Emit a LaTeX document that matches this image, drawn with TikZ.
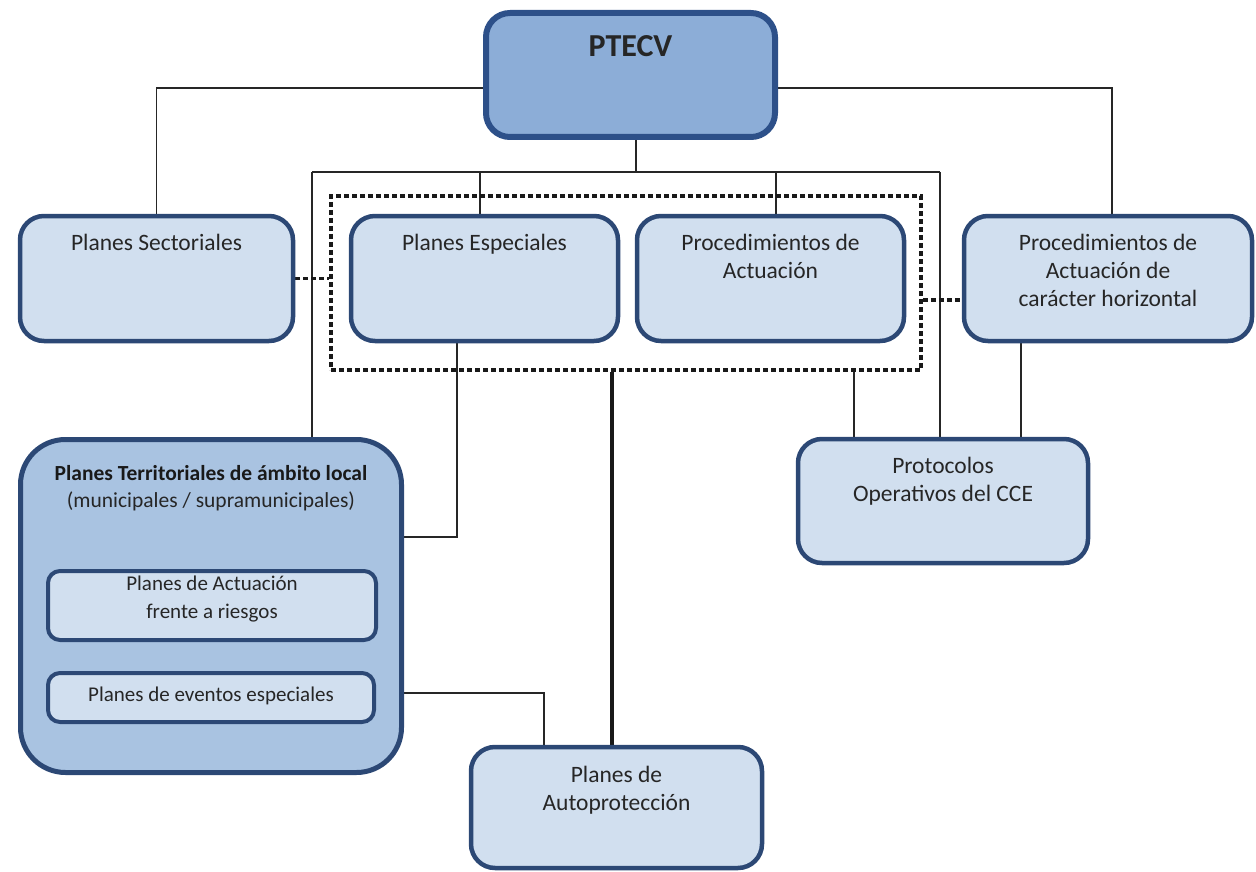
\documentclass[tikz,border=0pt]{standalone}
\usepackage{fontspec}
\setmainfont{Carlito}
\usetikzlibrary{backgrounds}
\definecolor{bdr}{RGB}{44,72,117}
\definecolor{bdrtop}{RGB}{45,80,137}
\definecolor{lightfill}{RGB}{209,223,239}
\definecolor{darkfill}{RGB}{140,173,215}
\definecolor{midfill}{RGB}{169,195,225}
\definecolor{txtc}{RGB}{38,38,38}
\begin{document}
\begin{tikzpicture}[x=1pt,y=-1pt,
  box/.style={rectangle, draw=bdr, line width=4.5pt, rounded corners=24pt, fill=lightfill, inner sep=0pt},
  smallbox/.style={box, line width=4pt, rounded corners=12pt},
  dotbox/.style={rectangle, draw=black!90, line width=3.6pt, dash pattern=on 5pt off 3pt, inner sep=0pt},
  txt/.style={text=txtc, font=\fontsize{23.5}{28}\selectfont, align=center, inner sep=0pt, anchor=north},
  smalltxt/.style={txt, font=\fontsize{21}{28}\selectfont},
  conn/.style={line width=1.4pt, draw=black!85},
  thickconn/.style={line width=3.4pt, draw=black!90},
  dotline/.style={line width=3.6pt, dash pattern=on 5pt off 3pt, draw=black!90}]
\useasboundingbox (0,0) rectangle (1256,872);

% boxes
\node[box, draw=bdrtop, fill=darkfill, line width=6pt, minimum width=289pt, minimum height=124pt] (ptecv) at (630.5,75) {};
\node[txt, font=\fontsize{32}{38}\selectfont\bfseries] (ptecvt) at (630.5,35) {PTECV};

\node[box, minimum width=273pt, minimum height=125pt] (sect) at (156.5,278.5) {};
\node[txt] (sectt) at (156.5,234) {Planes Sectoriales};

\node[box, minimum width=267pt, minimum height=125pt] (esp) at (484.5,278.5) {};
\node[txt] (espt) at (484.5,234) {Planes Especiales};

\node[box, minimum width=267pt, minimum height=125pt] (proc) at (770.5,278.5) {};
\node[txt] (proct) at (770.5,234) {Procedimientos de\\Actuación};

\node[box, minimum width=288pt, minimum height=125pt] (horiz) at (1108,278.5) {};
\node[txt] (horizt) at (1108,234) {Procedimientos de\\Actuación de\\carácter horizontal};

\node[dotbox, minimum width=590pt, minimum height=174pt] (dot) at (626,283) {};

\node[box, fill=midfill, line width=5pt, rounded corners=45pt, minimum width=381pt, minimum height=333pt] (terr) at (211,606) {};
\node[txt, font=\fontsize{21.5}{27}\selectfont] (terrt) at (211,465) {{\bfseries\color{black!90}Planes Territoriales de ámbito local}\\(municipales / supramunicipales)};

\node[smallbox, minimum width=328pt, minimum height=69pt] (riesgos) at (212,605.5) {};
\node[smalltxt] (riesgost) at (212,576) {Planes de Actuación\\frente a riesgos};

\node[smallbox, minimum width=326pt, minimum height=49pt] (eventos) at (211,697.5) {};
\node[smalltxt] (eventost) at (211,687) {Planes de eventos especiales};

\node[box, minimum width=290pt, minimum height=124pt] (proto) at (943,501) {};
\node[txt] (protot) at (943,457) {Protocolos\\Operativos del CCE};

\node[box, minimum width=291pt, minimum height=121pt] (auto) at (616.5,807.5) {};
\node[txt] (autot) at (616.5,766) {Planes de\\Autoprotección};

% connectors
\begin{scope}[on background layer]
\coordinate (hl) at (312,172);
\coordinate (hr) at (940,172);
\coordinate (hc) at (636,172);
\coordinate (he) at (480,172);
\coordinate (hp) at (776,172);
\draw[conn] ([yshift=-13pt]ptecv.west) -| (sect.north);
\draw[conn] ([yshift=-13pt]ptecv.east) -| ([xshift=4pt]horiz.north);
\draw[conn] (hc |- ptecv.south) -- (hc);
\draw[conn] (hl) -- (hr);
\draw[conn] (hl) -- (hl |- terr.north);
\draw[conn] (hr) -- (hr |- proto.north);
\draw[conn] (he) -- (he |- esp.north);
\draw[conn] (hp) -- (hp |- proc.north);
\draw[dotline] (sect.east) -- (dot.west |- sect.east);
\draw[dotline] (dot.east |- 0,300) -- (horiz.west |- 0,300);
\coordinate (espdown) at (457,537);
\draw[conn] (espdown |- esp.south) -- (espdown) -- (espdown -| riesgos.north);
\draw[conn, line width=3pt] (espdown -| riesgos.north) -- (riesgos.north);
\coordinate (autoline) at (612,370);
\draw[thickconn] (autoline |- dot.south) -- (autoline |- auto.north);
\coordinate (protol) at (854,370);
\draw[conn] (protol |- dot.south) -- (protol |- proto.north);
\coordinate (protor) at (1021,343);
\draw[conn] (protor |- horiz.south) -- (protor |- proto.north);
\coordinate (evr) at (544,693);
\draw[conn] (eventos.east |- evr) -- (evr) -- (evr |- auto.north);
\end{scope}
\end{tikzpicture}
\end{document}
